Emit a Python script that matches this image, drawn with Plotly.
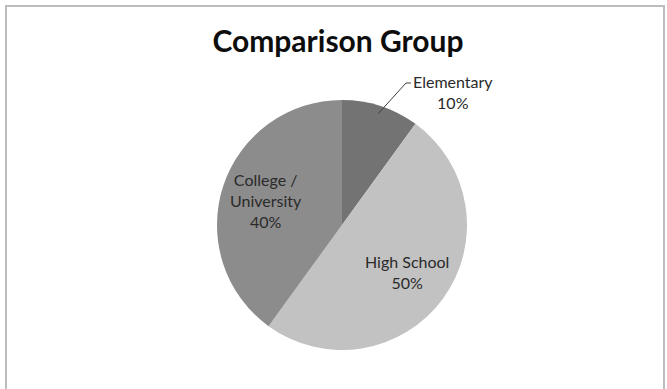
import math
import plotly.graph_objects as go

# Education level of the comparison group (share of respondents, %)
categories = ["Elementary", "High School", "College / University"]
shares = [10, 50, 40]
display_names = ["Elementary", "High School", "College /<br>University"]
slice_colors = ["#737373", "#c2c2c2", "#8c8c8c"]

W, H = 667, 389
cx, cy, r = 342, 225, 125  # pie centre and radius in pixels
LABEL_FONT = dict(family="Lato, Open Sans, sans-serif", size=16, color="#2a2a2a")

dom_x = [(cx - r) / W, (cx + r) / W]
dom_y = [(H - (cy + r)) / H, (H - (cy - r)) / H]

fig = go.Figure(
    go.Pie(
        labels=categories,
        values=shares,
        textinfo="none",
        marker=dict(colors=slice_colors, line=dict(width=0)),
        sort=False,
        direction="clockwise",
        rotation=0,
        hoverinfo="label+percent",
        showlegend=False,
        domain=dict(x=dom_x, y=dom_y),
    )
)

total = sum(shares)
start = 0.0
mids = []
for v in shares:
    span = v / total * 360
    mids.append(start + span / 2)
    start += span


def to_paper(px, py):
    return px / W, 1 - py / H


# Inside labels for the two large slices, placed along each slice's mid-angle
for name, v, mid in list(zip(display_names, shares, mids))[1:]:
    px = cx + 0.64 * r * math.sin(math.radians(mid))
    py = cy - 0.64 * r * math.cos(math.radians(mid))
    x, y = to_paper(px, py)
    fig.add_annotation(
        x=x, y=y, xref="paper", yref="paper", showarrow=False,
        xanchor="center", yanchor="middle", align="center",
        text=f"{name}<br>{v / total:.0%}", font=LABEL_FONT,
    )

# Outside label for the small first slice with an elbow leader line
ax_px = cx + (r - 8) * math.sin(math.radians(mids[0]))
ay_px = cy - (r - 8) * math.cos(math.radians(mids[0]))
ex_px, ey_px = 406, 83
p0, p1, p2 = to_paper(ax_px, ay_px), to_paper(ex_px, ey_px), to_paper(ex_px + 5, ey_px)
fig.add_shape(
    type="path", xref="paper", yref="paper",
    path=f"M {p0[0]} {p0[1]} L {p1[0]} {p1[1]} L {p2[0]} {p2[1]}",
    line=dict(color="#404040", width=1),
)
lx, ly = to_paper(ex_px + 5, 92)
fig.add_annotation(
    x=lx, y=ly, xref="paper", yref="paper",
    xanchor="left", yanchor="middle", align="center", showarrow=False,
    text=f"{display_names[0]}<br>{shares[0] / total:.0%}", font=LABEL_FONT,
)

# Chart frame
fig.add_shape(
    type="rect", xref="paper", yref="paper",
    x0=6 / W, x1=664 / W, y0=-0.02, y1=1 - 6 / H,
    line=dict(color="#bdbdbd", width=2),
)

fig.update_layout(
    width=W, height=H,
    margin=dict(l=0, r=0, t=0, b=0),
    paper_bgcolor="white",
    plot_bgcolor="white",
    title=dict(
        text="<b>Comparison Group</b>",
        x=338 / W, xanchor="center",
        y=1 - 41 / H, yanchor="middle",
        font=dict(family="Lato, Open Sans, sans-serif", size=30, color="#0d0d0d"),
    ),
)

fig.write_html("out.html")
